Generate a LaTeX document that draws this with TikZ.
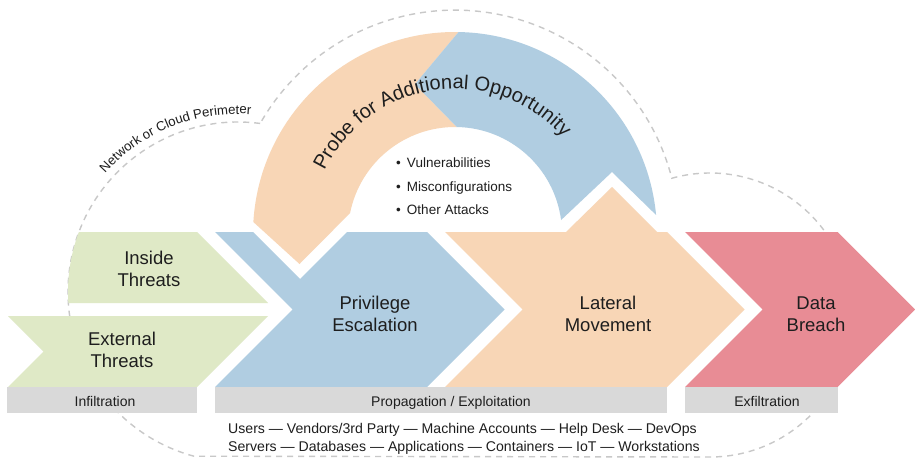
\documentclass[tikz,border=0pt]{standalone}
\usepackage{fontspec}
\setmainfont{Liberation Sans}
\usetikzlibrary{calc,decorations.text}
\definecolor{grn}{HTML}{DFE9C6}
\definecolor{blu}{HTML}{B0CDE1}
\definecolor{pch}{HTML}{F8D6B6}
\definecolor{pnk}{HTML}{E88C95}
\definecolor{barc}{HTML}{D9D9D9}
\definecolor{dsh}{HTML}{C8C8C8}
\definecolor{txt}{HTML}{1E1E1E}
\begin{document}
\begin{tikzpicture}[x=1pt,y=1pt,
  lbl/.style={font=\fontsize{18.5}{21.5}\selectfont, text=txt, align=center, inner sep=0pt},
  bartxt/.style={font=\fontsize{14}{16}\selectfont, text=txt, anchor=base, inner sep=0pt},
  smalltxt/.style={font=\fontsize{14.1}{16}\selectfont, text=txt, anchor=base west, inner sep=0pt},
  bul/.style={font=\fontsize{13.5}{16}\selectfont, text=txt, anchor=base west, inner sep=0pt},
  perim/.style={draw=dsh, line width=1.4pt, dash pattern=on 6pt off 5pt}]
\useasboundingbox (0,0) rectangle (915,459);
\fill[white] (0,0) rectangle (915,459);
\coordinate (C) at (455,225);
\coordinate (L) at (238,167);
\coordinate (R) at (710,144);

% network perimeter
\draw[perim] ($(L)+(82.5:170)$) arc[start angle=82.5, end angle=255, radius=170]
  -- (710,2) arc[start angle=270, end angle=465.6, radius=142]
  arc[start angle=14.45, end angle=150.4, radius=224] -- cycle;
\path[decorate, decoration={text along path, text align=center, text color=txt,
  text={|\fontsize{13.2}{15}\selectfont|Network or Cloud Perimeter}}]
  ($(L)+(182:178)$) arc[start angle=182, end angle=42, radius=178];

% probe arc
\fill[pch] ($(C)+(168.7:107)$) -- (299.5,195) -- ($(C)+(176.6:202)$)
  arc[start angle=176.6, end angle=89, radius=202] -- ($(C)+(105:155)$)
  -- ($(C)+(89:107)$) arc[start angle=89, end angle=168.7, radius=107] -- cycle;
\fill[blu] ($(C)+(89:202)$) arc[start angle=89, end angle=5.4, radius=202]
  -- (612,287) -- ($(C)+(7.5:107)$) arc[start angle=7.5, end angle=89, radius=107]
  -- ($(C)+(105:155)$) -- cycle;
\path[decorate, decoration={text along path, text align=center, text color=txt,
  text={|\fontsize{20}{24}\selectfont|Probe for Additional Opportunity}}]
  ($(C)+(188:145)$) arc[start angle=188, end angle=8, radius=145];

% main row
\begin{scope}
  \clip (L) circle[radius=170];
  \fill[grn] (50,227) -- (197,227) -- (268,156) -- (50,156) -- cycle;
\end{scope}
\fill[grn] (8,143) -- (268,143) -- (197,72) -- (8,72) -- (43.5,107.5) -- cycle;
\fill[blu] (215,227) -- (253,227) -- (300,180) -- (347,227) -- (427,227)
  -- (504.5,149.5) -- (427,72) -- (215,72) -- (292.5,149.5) -- cycle;
\fill[pch] (445,227) -- (566,227) -- (612,272) -- (657,227) -- (667,227)
  -- (744.5,149.5) -- (667,72) -- (445,72) -- (522.5,149.5) -- cycle;
\fill[pnk] (685,227) -- (837.5,227) -- (915,149.5) -- (837.5,72) -- (685,72)
  -- (762.5,149.5) -- cycle;

% bars
\fill[barc] (7,46) rectangle (197,72);
\fill[barc] (215,46) rectangle (667,72);
\fill[barc] (685,46) rectangle (838,72);

% labels
\node[lbl] (inside) at (149,189.9) {Inside\\Threats};
\node[lbl] (external) at (122,109.2) {External\\Threats};
\node[lbl] (priv) at (375,145) {Privilege\\Escalation};
\node[lbl] (lat) at (608,145) {Lateral\\Movement};
\node[lbl] (data) at (816,145) {Data\\Breach};

\node[bul] (b1) at (396,292) {•\hspace{0.45em}Vulnerabilities};
\node[bul] (b2) at (396,268) {•\hspace{0.45em}Misconfigurations};
\node[bul] (b3) at (396,245) {•\hspace{0.45em}Other Attacks};

\node[bartxt] (infil) at (105,53) {Infiltration};
\node[bartxt] (prop) at (451,53) {Propagation / Exploitation};
\node[bartxt] (exfil) at (767,53) {Exfiltration};

\node[smalltxt] (line1) at (228,26) {Users — Vendors/3rd Party — Machine Accounts — Help Desk — DevOps};
\node[smalltxt] (line2) at (228,8) {Servers — Databases — Applications — Containers — IoT — Workstations};
\end{tikzpicture}
\end{document}
